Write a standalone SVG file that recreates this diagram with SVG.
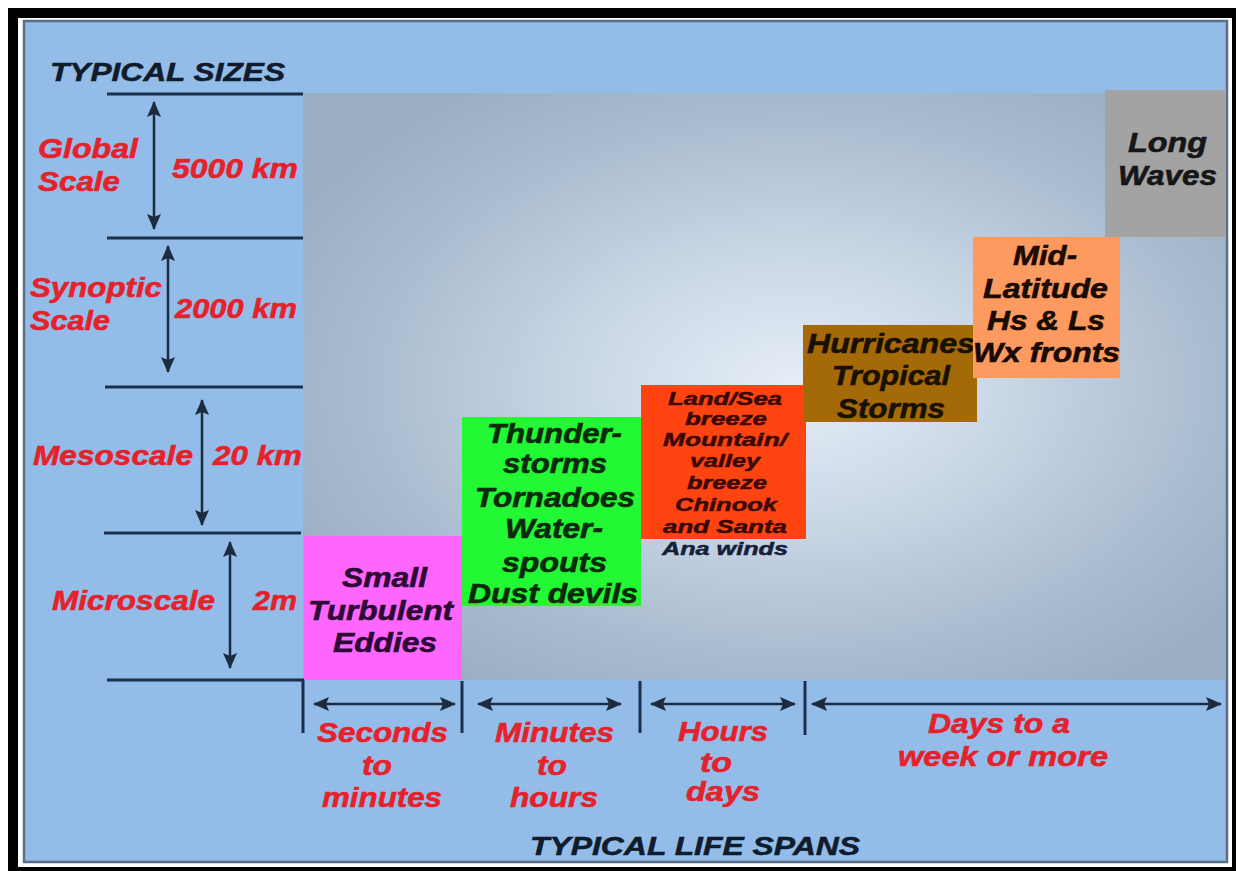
<svg xmlns="http://www.w3.org/2000/svg" width="1238" height="871" viewBox="0 0 1238 871">
<style>
  text { font-family: "Liberation Sans", Arial, sans-serif; font-weight: bold; font-style: italic; }
  .red { fill: #e5222c; stroke: #e5222c; stroke-width: 0.6; font-size: 28px; }
  .ttl { fill: #101b2c; stroke: #101b2c; stroke-width: 0.5; font-size: 25px; }
  .bx { font-size: 28px; stroke-width: 0.6; }
  .sm { font-size: 19px; stroke-width: 0.5; }
  .ln { stroke: #1b2f4c; stroke-width: 3; fill: none; }
  .ar { stroke: #1b2b40; stroke-width: 2.5; fill: none; marker-start: url(#ah); marker-end: url(#ah); }
</style>
<defs>
  <marker id="ah" viewBox="0 0 16 14" refX="15" refY="7" markerWidth="16" markerHeight="14" markerUnits="userSpaceOnUse" orient="auto-start-reverse">
    <path d="M0,0 L16,7 L0,14 L3,7 Z" fill="#1b2b40"/>
  </marker>
  <radialGradient id="bg" cx="0.53" cy="0.5" r="0.62">
    <stop offset="0" stop-color="#e6eef7"/>
    <stop offset="0.35" stop-color="#cbd8e7"/>
    <stop offset="0.75" stop-color="#a9bbcf"/>
    <stop offset="1" stop-color="#9badc2"/>
  </radialGradient>
</defs>

<!-- frame -->
<rect x="0" y="0" width="1238" height="871" fill="#ffffff"/>
<rect x="8" y="8" width="1228" height="863" fill="#000000"/>
<rect x="18" y="18" width="1214" height="849" fill="#ffffff"/>
<rect x="24" y="21" width="1203" height="841" fill="#93bde8" stroke="#5c6d86" stroke-width="2.5"/>
<rect x="303" y="93" width="922" height="587" fill="url(#bg)"/>

<text class="ttl" x="50" y="81" textLength="235" lengthAdjust="spacingAndGlyphs">TYPICAL SIZES</text>
<text class="ttl" x="530" y="855" textLength="330" lengthAdjust="spacingAndGlyphs">TYPICAL LIFE SPANS</text>

<g id="connectors">
  <path class="ln" d="M107,94 H303"/>
  <path class="ln" d="M107,238 H303"/>
  <path class="ln" d="M105,387 H303"/>
  <path class="ln" d="M104,533 H301"/>
  <path class="ln" d="M107,680 H303 V733"/>
  <path class="ln" d="M462,681 V733"/>
  <path class="ln" d="M640,681 V733"/>
  <path class="ln" d="M805,681 V735"/>
  <line class="ar" x1="154" y1="102" x2="154" y2="229"/>
  <line class="ar" x1="168" y1="246" x2="168" y2="372"/>
  <line class="ar" x1="202" y1="400" x2="202" y2="525"/>
  <line class="ar" x1="230" y1="542" x2="230" y2="668"/>
  <line class="ar" x1="314" y1="704" x2="455" y2="704"/>
  <line class="ar" x1="478" y1="704" x2="621" y2="704"/>
  <line class="ar" x1="651" y1="704" x2="795" y2="704"/>
  <line class="ar" x1="812" y1="704" x2="1221" y2="704"/>
</g>

<g id="size-labels">
  <text class="red" x="38" y="158" textLength="100" lengthAdjust="spacingAndGlyphs">Global</text>
  <text class="red" x="38" y="191" textLength="82" lengthAdjust="spacingAndGlyphs">Scale</text>
  <text class="red" x="172" y="178" textLength="126" lengthAdjust="spacingAndGlyphs">5000 km</text>
  <text class="red" x="30" y="297" textLength="132" lengthAdjust="spacingAndGlyphs">Synoptic</text>
  <text class="red" x="30" y="330" textLength="80" lengthAdjust="spacingAndGlyphs">Scale</text>
  <text class="red" x="175" y="318" textLength="122" lengthAdjust="spacingAndGlyphs">2000 km</text>
  <text class="red" x="33" y="465" textLength="160" lengthAdjust="spacingAndGlyphs">Mesoscale</text>
  <text class="red" x="213" y="465" textLength="89" lengthAdjust="spacingAndGlyphs">20 km</text>
  <text class="red" x="52" y="610" textLength="163" lengthAdjust="spacingAndGlyphs">Microscale</text>
  <text class="red" x="253" y="610" textLength="44" lengthAdjust="spacingAndGlyphs">2m</text>
</g>

<g id="span-labels">
  <text class="red" x="317" y="742" textLength="131" lengthAdjust="spacingAndGlyphs">Seconds</text>
  <text class="red" x="362" y="775" textLength="30" lengthAdjust="spacingAndGlyphs">to</text>
  <text class="red" x="322" y="807" textLength="120" lengthAdjust="spacingAndGlyphs">minutes</text>
  <text class="red" x="495" y="742" textLength="119" lengthAdjust="spacingAndGlyphs">Minutes</text>
  <text class="red" x="537" y="775" textLength="30" lengthAdjust="spacingAndGlyphs">to</text>
  <text class="red" x="510" y="807" textLength="88" lengthAdjust="spacingAndGlyphs">hours</text>
  <text class="red" x="678" y="741" textLength="90" lengthAdjust="spacingAndGlyphs">Hours</text>
  <text class="red" x="700" y="772" textLength="32" lengthAdjust="spacingAndGlyphs">to</text>
  <text class="red" x="686" y="801" textLength="74" lengthAdjust="spacingAndGlyphs">days</text>
  <text class="red" x="928" y="733" textLength="142" lengthAdjust="spacingAndGlyphs">Days to a</text>
  <text class="red" x="898" y="766" textLength="210" lengthAdjust="spacingAndGlyphs">week or more</text>
</g>

<g id="micro">
  <rect x="304" y="536" width="158" height="144" fill="#fe66fe"/>
  <g class="bx" fill="#2d0a35" stroke="#2d0a35">
    <text x="342" y="587" textLength="85" lengthAdjust="spacingAndGlyphs">Small</text>
    <text x="308" y="620" textLength="145" lengthAdjust="spacingAndGlyphs">Turbulent</text>
    <text x="333" y="652" textLength="104" lengthAdjust="spacingAndGlyphs">Eddies</text>
  </g>
</g>

<g id="meso-storms">
  <rect x="462" y="417" width="179" height="189" fill="#22f833"/>
  <g class="bx" fill="#0a2a0a" stroke="#0a2a0a">
    <text x="487" y="443" textLength="135" lengthAdjust="spacingAndGlyphs">Thunder-</text>
    <text x="503" y="473" textLength="104" lengthAdjust="spacingAndGlyphs">storms</text>
    <text x="475" y="507" textLength="160" lengthAdjust="spacingAndGlyphs">Tornadoes</text>
    <text x="505" y="538" textLength="98" lengthAdjust="spacingAndGlyphs">Water-</text>
    <text x="502" y="572" textLength="105" lengthAdjust="spacingAndGlyphs">spouts</text>
    <text x="468" y="603" textLength="170" lengthAdjust="spacingAndGlyphs">Dust devils</text>
  </g>
</g>

<g id="meso-winds">
  <rect x="641" y="385" width="165" height="154" fill="#ff4412"/>
  <g class="sm" fill="#3a0800" stroke="#3a0800">
    <text x="668" y="405" textLength="114" lengthAdjust="spacingAndGlyphs">Land/Sea</text>
    <text x="685" y="425" textLength="82" lengthAdjust="spacingAndGlyphs">breeze</text>
    <text x="663" y="446" textLength="124" lengthAdjust="spacingAndGlyphs">Mountain/</text>
    <text x="690" y="467" textLength="70" lengthAdjust="spacingAndGlyphs">valley</text>
    <text x="687" y="489" textLength="80" lengthAdjust="spacingAndGlyphs">breeze</text>
    <text x="675" y="511" textLength="102" lengthAdjust="spacingAndGlyphs">Chinook</text>
    <text x="663" y="533" textLength="124" lengthAdjust="spacingAndGlyphs">and Santa</text>
    <text x="662" y="555" textLength="126" lengthAdjust="spacingAndGlyphs" fill="#15203a" stroke="#15203a">Ana winds</text>
  </g>
</g>

<g id="hurricanes">
  <rect x="803" y="325" width="174" height="97" fill="#a46a08"/>
  <g class="bx" fill="#1a1000" stroke="#1a1000">
    <text x="807" y="353" textLength="168" lengthAdjust="spacingAndGlyphs">Hurricanes</text>
    <text x="832" y="385" textLength="118" lengthAdjust="spacingAndGlyphs">Tropical</text>
    <text x="837" y="418" textLength="108" lengthAdjust="spacingAndGlyphs">Storms</text>
  </g>
</g>

<g id="midlatitude">
  <rect x="973" y="237" width="147" height="141" fill="#fd9a60"/>
  <g class="bx" fill="#1a0a00" stroke="#1a0a00">
    <text x="1013" y="265" textLength="64" lengthAdjust="spacingAndGlyphs">Mid-</text>
    <text x="983" y="298" textLength="125" lengthAdjust="spacingAndGlyphs">Latitude</text>
    <text x="987" y="330" textLength="118" lengthAdjust="spacingAndGlyphs">Hs &amp; Ls</text>
    <text x="973" y="362" textLength="147" lengthAdjust="spacingAndGlyphs">Wx fronts</text>
  </g>
</g>

<g id="longwaves">
  <rect x="1105" y="90" width="120" height="147" fill="#a3a3a3"/>
  <g class="bx" fill="#161616" stroke="#161616">
    <text x="1128" y="152" textLength="79" lengthAdjust="spacingAndGlyphs">Long</text>
    <text x="1118" y="185" textLength="99" lengthAdjust="spacingAndGlyphs">Waves</text>
  </g>
</g>
</svg>
